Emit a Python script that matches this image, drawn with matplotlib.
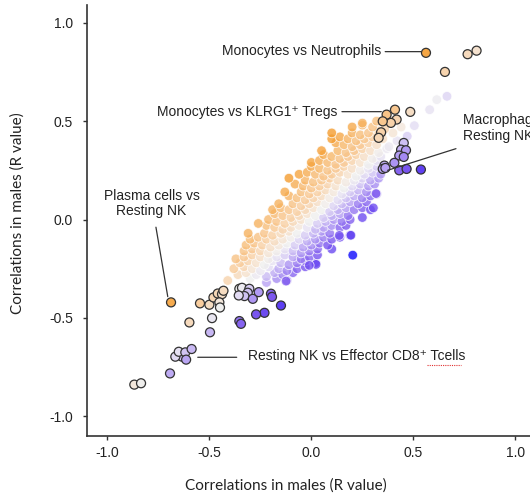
import numpy as np
import matplotlib
matplotlib.use('Agg')
import matplotlib.pyplot as plt
from matplotlib.colors import LinearSegmentedColormap, Normalize

plt.rcParams['font.family'] = ['Liberation Sans', 'DejaVu Sans']
plt.rcParams['axes.unicode_minus'] = False

# cell-type pair correlations, the big cloud (not significant)
cloud_x = [
    -0.41, -0.30, -0.22, -0.17, -0.12,
    -0.36, -0.32, -0.27, -0.22, -0.18, -0.14, -0.09,
    -0.38, -0.33, -0.29, -0.25, -0.21, -0.16, -0.12, -0.07, -0.03,
    -0.35, -0.31, -0.27, -0.23, -0.19, -0.15, -0.11, -0.07, -0.03, 0.02,
    -0.37, -0.33, -0.29, -0.25, -0.21, -0.17, -0.13, -0.09, -0.05, -0.01, 0.03,
    -0.33, -0.29, -0.25, -0.21, -0.17, -0.13, -0.09, -0.05, -0.01, 0.03, 0.10,
    -0.32, -0.28, -0.24, -0.20, -0.16, -0.12, -0.08, -0.04, 0.00, 0.04, 0.08,
    -0.30, -0.26, -0.22, -0.18, -0.14, -0.10, -0.06, -0.02, 0.02, 0.06, 0.10, 0.14,
    -0.31, -0.23, -0.19, -0.15, -0.11, -0.07, -0.03, 0.01, 0.05, 0.09, 0.19,
    -0.22, -0.18, -0.14, -0.10, -0.06, -0.02, 0.02, 0.06, 0.10, 0.14, 0.17,
    -0.26, -0.21, -0.17, -0.13, -0.09, -0.05, -0.01, 0.03, 0.07, 0.11, 0.15, 0.19,
    -0.18, -0.14, -0.10, -0.06, -0.02, 0.02, 0.06, 0.10, 0.14, 0.18, 0.25,
    -0.19, -0.15, -0.11, -0.07, -0.03, 0.01, 0.05, 0.09, 0.13, 0.17, 0.21, 0.25, 0.29,
    -0.16, -0.09, -0.05, -0.01, 0.03, 0.07, 0.11, 0.15, 0.19, 0.23, 0.27,
    -0.11, -0.07, -0.03, 0.01, 0.05, 0.09, 0.13, 0.17, 0.21, 0.25, 0.29,
    -0.13, -0.05, -0.01, 0.03, 0.07, 0.11, 0.15, 0.19, 0.23, 0.27, 0.32,
    -0.08, -0.04, 0.00, 0.04, 0.08, 0.12, 0.16, 0.20, 0.24, 0.28, 0.31,
    -0.11, -0.03, 0.01, 0.05, 0.09, 0.13, 0.17, 0.21, 0.25, 0.29, 0.33,
    -0.06, -0.02, 0.02, 0.06, 0.10, 0.14, 0.18, 0.22, 0.26, 0.30, 0.34,
    0.00, 0.04, 0.08, 0.12, 0.16, 0.20, 0.24, 0.28, 0.32, 0.36,
    0.00, 0.04, 0.08, 0.12, 0.16, 0.20, 0.24, 0.28, 0.32,
    0.06, 0.10, 0.14, 0.18, 0.22, 0.26, 0.30, 0.34,
    0.05, 0.13, 0.17, 0.21, 0.25, 0.29, 0.33, 0.37,
    0.12, 0.16, 0.20, 0.24, 0.28, 0.32, 0.38,
    0.10, 0.14, 0.18, 0.22, 0.26, 0.30, 0.35, 0.42,
    0.10, 0.20, 0.24, 0.28, 0.33, 0.40,
    0.20, 0.25, 0.30, 0.36, 0.44,
    0.25, 0.32, 0.40,
    0.47, 0.505, 0.58, 0.615, 0.665, 0.194, 0.137, 0.023, -0.01, -0.124, 0.317, 0.304, 0.203,
]
cloud_y = [
    -0.31, -0.30, -0.32, -0.30, -0.31,
    -0.28, -0.27, -0.28, -0.29, -0.27, -0.28, -0.27,
    -0.25, -0.24, -0.25, -0.26, -0.24, -0.25, -0.26, -0.25, -0.24,
    -0.22, -0.21, -0.22, -0.23, -0.21, -0.22, -0.23, -0.22, -0.21, -0.22,
    -0.20, -0.19, -0.18, -0.19, -0.20, -0.19, -0.18, -0.19, -0.20, -0.19, -0.18,
    -0.16, -0.15, -0.16, -0.17, -0.16, -0.15, -0.16, -0.17, -0.16, -0.15, -0.15,
    -0.13, -0.12, -0.13, -0.14, -0.13, -0.12, -0.13, -0.14, -0.13, -0.12, -0.13,
    -0.10, -0.09, -0.10, -0.11, -0.10, -0.09, -0.10, -0.11, -0.10, -0.09, -0.10, -0.09,
    -0.07, -0.07, -0.08, -0.07, -0.06, -0.07, -0.08, -0.07, -0.06, -0.07, -0.08,
    -0.03, -0.04, -0.05, -0.04, -0.03, -0.04, -0.05, -0.04, -0.03, -0.04, -0.03,
    -0.02, 0.00, -0.01, -0.02, -0.01, 0.00, -0.01, -0.02, -0.01, 0.00, -0.01, 0.00,
    0.03, 0.02, 0.01, 0.02, 0.03, 0.02, 0.01, 0.02, 0.03, 0.02, 0.01,
    0.05, 0.06, 0.05, 0.04, 0.05, 0.06, 0.05, 0.04, 0.05, 0.06, 0.05, 0.06, 0.05,
    0.08, 0.08, 0.07, 0.08, 0.09, 0.08, 0.07, 0.08, 0.09, 0.08, 0.09,
    0.12, 0.11, 0.10, 0.11, 0.12, 0.11, 0.10, 0.11, 0.12, 0.11, 0.12,
    0.14, 0.14, 0.13, 0.14, 0.15, 0.14, 0.13, 0.14, 0.15, 0.14, 0.13,
    0.18, 0.17, 0.16, 0.17, 0.18, 0.17, 0.16, 0.17, 0.18, 0.17, 0.18,
    0.21, 0.20, 0.19, 0.20, 0.21, 0.20, 0.19, 0.20, 0.21, 0.20, 0.21,
    0.23, 0.24, 0.23, 0.22, 0.23, 0.24, 0.23, 0.22, 0.23, 0.24, 0.23,
    0.27, 0.26, 0.25, 0.26, 0.27, 0.26, 0.25, 0.26, 0.27, 0.26,
    0.29, 0.30, 0.29, 0.28, 0.29, 0.30, 0.29, 0.28, 0.30,
    0.33, 0.32, 0.31, 0.32, 0.33, 0.32, 0.31, 0.32,
    0.35, 0.35, 0.34, 0.35, 0.36, 0.35, 0.34, 0.36,
    0.39, 0.38, 0.37, 0.38, 0.39, 0.38, 0.37,
    0.41, 0.42, 0.41, 0.40, 0.41, 0.42, 0.41, 0.40,
    0.44, 0.44, 0.43, 0.44, 0.45, 0.44,
    0.47, 0.48, 0.47, 0.46, 0.47,
    0.49, 0.50, 0.50,
    0.423, 0.477, 0.558, 0.609, 0.626, -0.08, -0.081, -0.228, -0.233, -0.313, 0.132, 0.059, -0.181,
]

# significant pairs (drawn with a dark outline)
sig_x = [0.562, 0.766, 0.81, 0.655,
         0.41, 0.369, 0.418, 0.39, 0.35, 0.485, 0.342, 0.33,
         0.453, 0.44, 0.464, 0.431, 0.453, 0.407, 0.358, 0.35, 0.363, 0.431, 0.467, 0.537,
         -0.688,
         -0.546, -0.5, -0.48, -0.459, -0.438, -0.431, -0.451, -0.448, -0.598, -0.487, -0.497,
         -0.634, -0.667, -0.65, -0.618, -0.614, -0.587, -0.693,
         -0.868, -0.835,
         -0.353, -0.34, -0.304, -0.312, -0.328, -0.356, -0.287, -0.258, -0.198, -0.193,
         -0.149, -0.23, -0.271, -0.353, -0.345]
sig_y = [0.847, 0.84, 0.858, 0.75,
         0.558, 0.533, 0.508, 0.491, 0.499, 0.547, 0.443, 0.415,
         0.389, 0.355, 0.352, 0.325, 0.318, 0.288, 0.274, 0.257, 0.262, 0.25, 0.257, 0.254,
         -0.421,
         -0.426, -0.433, -0.396, -0.376, -0.379, -0.362, -0.421, -0.447, -0.523, -0.501, -0.573,
         -0.697, -0.697, -0.672, -0.675, -0.712, -0.658, -0.782,
         -0.839, -0.832,
         -0.352, -0.347, -0.352, -0.372, -0.389, -0.386, -0.403, -0.369, -0.377, -0.393,
         -0.437, -0.474, -0.482, -0.516, -0.53]

ticks = [-1.0, -0.5, 0.0, 0.5, 1.0]
tick_labels = ['-1.0', '-0.5', '0.0', '0.5', '1.0']

# colour = difference between the two correlations
vmin, vmax = -0.4, 0.32
stops = [(-0.40, '#0000ff'), (-0.30, '#5a3cf2'), (-0.20, '#7d58ef'), (-0.10, '#b8a3f3'),
         (-0.03, '#e2dbf3'), (0.00, '#efefef'), (0.04, '#f4e4d4'), (0.12, '#f8cd9e'),
         (0.22, '#f7b86c'), (0.32, '#f49d30')]
cmap = LinearSegmentedColormap.from_list(
    'diff', [((v - vmin) / (vmax - vmin), c) for v, c in stops])
norm = Normalize(vmin, vmax)

fig = plt.figure(figsize=(5.3, 4.96), dpi=100)
ax = fig.add_axes([87 / 530, 60 / 496, 443 / 530, 431 / 496])

cx = np.array(cloud_x)
cy = np.array(cloud_y)
sx = np.array(sig_x)
sy = np.array(sig_y)

ax.scatter(cx, cy, c=cy - cx, cmap=cmap, norm=norm, s=48, alpha=0.8,
           edgecolors='white', linewidths=0.6, zorder=2)
ax.scatter(sx, sy, c=sy - sx, cmap=cmap, norm=norm, s=42,
           edgecolors='#333333', linewidths=0.9, zorder=3)

ax.set_xlim(-1.1, 1.072)
ax.set_ylim(-1.1, 1.09)
ax.set_xticks(ticks)
ax.set_xticklabels(tick_labels)
ax.set_yticks(ticks)
ax.set_yticklabels(tick_labels)
ax.spines['top'].set_visible(False)
ax.spines['right'].set_visible(False)
for s in ['left', 'bottom']:
    ax.spines[s].set_linewidth(1.2)
    ax.spines[s].set_color('#333333')
ax.tick_params(axis='both', length=3, width=1, color='#333333', labelsize=10,
               labelcolor='#222222')
ax.tick_params(axis='y', pad=7)
ax.tick_params(axis='x', pad=4)

# labels with leader lines
txt = dict(fontsize=10, color='#222222')
line = dict(arrowstyle='-', color='#333333', lw=0.9, shrinkA=0, shrinkB=0)

ax.text(0.343, 0.855, 'Monocytes vs Neutrophils', ha='right', va='center', **txt)
ax.annotate('', xy=(0.537, 0.853), xytext=(0.362, 0.853), arrowprops=line)

ax.text(0.127, 0.545, 'Monocytes vs KLRG1\u207a Tregs', ha='right', va='center', **txt)
ax.annotate('', xy=(0.343, 0.548), xytext=(0.150, 0.548), arrowprops=line)

# cut at the right edge like in the original figure
ax.text(0.745, 0.464, 'Macrophages vs\nResting NK', ha='left', va='center',
        linespacing=1.15, **txt)
ax.annotate('', xy=(0.374, 0.25), xytext=(0.709, 0.36), arrowprops=line)

ax.text(-0.784, 0.081, 'Plasma cells vs\nResting NK', ha='center', va='center',
        linespacing=1.15, **txt)
ax.annotate('', xy=(-0.704, -0.392), xytext=(-0.762, -0.039), arrowprops=line)

ax.text(-0.309, -0.695, 'Resting NK vs Effector CD8\u207a Tcells', ha='left', va='center', **txt)
ax.annotate('', xy=(-0.366, -0.70), xytext=(-0.557, -0.70), arrowprops=line)
# spell-check squiggle under "Tcells"
ax.plot([0.566, 0.735], [-0.738, -0.738], color='#e03030', lw=0.8,
        ls=(0, (1, 1)), zorder=4)

fig.text(0.54, 0.022, 'Correlations in males (R value)', ha='center', va='center',
         fontsize=11, color='#222222', family=['Lato', 'DejaVu Sans'])
fig.text(0.034, 0.571, 'Correlations in males (R value)', ha='center', va='center',
         rotation=90, fontsize=11, color='#222222', family=['Lato', 'DejaVu Sans'])

fig.savefig('out.png', dpi=100)
